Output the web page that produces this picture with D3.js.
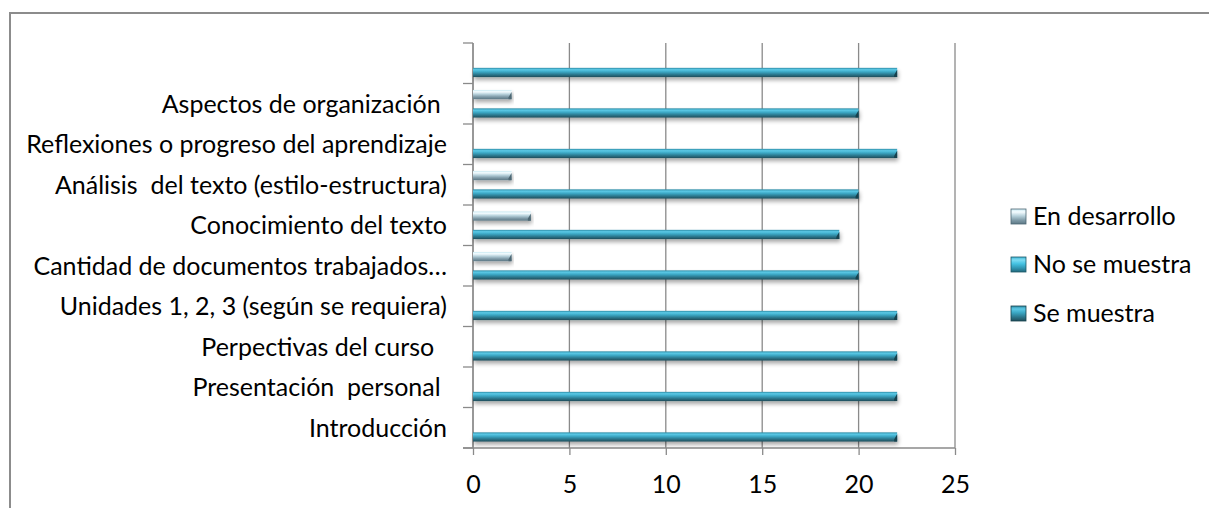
<!DOCTYPE html>
<html>
<head>
<meta charset="utf-8">
<script src="https://cdn.jsdelivr.net/npm/d3@7"></script>
<style>
  body { margin: 0; background: #fff; }
  text { font-family: Lato, "Open Sans", sans-serif; fill: #000; white-space: pre; }
</style>
</head>
<body>
<svg id="chart" width="1209" height="508"></svg>
<script>
// categories, top to bottom (the top one has no label in the original)
var categories = [
    "",
    "Aspectos de organización ",
    "Reflexiones o progreso del aprendizaje",
    "Análisis  del texto (estilo-estructura)",
    "Conocimiento del texto",
    "Cantidad de documentos trabajados…",
    "Unidades 1, 2, 3 (según se requiera)",
    "Perpectivas del curso  ",
    "Presentación  personal ",
    "Introducción"
];
var seMuestra    = [22, 20, 22, 20, 19, 20, 22, 22, 22, 22];
var noSeMuestra  = [0, 0, 0, 0, 0, 0, 0, 0, 0, 0];
var enDesarrollo = [0, 2, 0, 2, 3, 2, 0, 0, 0, 0];
var seriesNames  = ["En desarrollo", "No se muestra", "Se muestra"];
var xTicks = [0, 5, 10, 15, 20, 25];

var svg = d3.select("#chart");
var fontSize = 25;

var series = [
    {name: "En desarrollo", values: enDesarrollo, grad: "gDes", stops: ["#c9e9f2", "#f4fcff", "#b9d3dd", "#7e9aa7", "#5d7885"], end: "#4d6773"},
    {name: "No se muestra", values: noSeMuestra, grad: "gNo", stops: ["#3fb6d6", "#7ddcf3", "#45c2e2", "#2f94b0", "#22687b"], end: "#1d5868"},
    {name: "Se muestra", values: seMuestra, grad: "gSe", stops: ["#2e8ca6", "#5cc9e6", "#3aa6c3", "#2b7489", "#1f4e5b"], end: "#17414d"}
];

// frame
svg.append("rect")
    .attr("x", 10).attr("y", 13)
    .attr("width", 1220).attr("height", 520)
    .attr("fill", "none").attr("stroke", "#8c8c8c").attr("stroke-width", 2);

var defs = svg.append("defs");
series.forEach(function(s){
    var g = defs.append("linearGradient").attr("id", s.grad)
        .attr("x1", 0).attr("y1", 0).attr("x2", 0).attr("y2", 1);
    var offs = [0, 0.2, 0.45, 0.75, 1];
    s.stops.forEach(function(c, i){
        g.append("stop").attr("offset", offs[i]).attr("stop-color", c);
    });
});
var shadow = defs.append("filter").attr("id", "shadow")
    .attr("x", "-5%").attr("y", "-50%").attr("width", "110%").attr("height", "250%");
shadow.append("feGaussianBlur").attr("in", "SourceAlpha").attr("stdDeviation", 2);
shadow.append("feOffset").attr("dx", 1).attr("dy", 3).attr("result", "off");
shadow.append("feComponentTransfer").append("feFuncA").attr("type", "linear").attr("slope", 0.35);
var merge = shadow.append("feMerge");
merge.append("feMergeNode");
merge.append("feMergeNode").attr("in", "SourceGraphic");

var x = d3.scaleLinear().domain([0, 25]).range([473, 955]);
var y = d3.scaleBand().domain(categories).range([43, 448]).paddingInner(0).paddingOuter(0);
var ySub = d3.scaleBand().domain(seriesNames).range([0, y.bandwidth()]).paddingInner(0).paddingOuter(0.7);

// vertical gridlines
svg.append("g").selectAll("line").data(xTicks).join("line")
    .attr("x1", d => x(d)).attr("x2", d => x(d))
    .attr("y1", 43).attr("y2", 448)
    .attr("stroke", "#8a8a8a").attr("stroke-width", 1.3);

// bottom axis
var xAxis = svg.append("g").attr("transform", "translate(0,448)")
    .call(d3.axisBottom(x).tickValues(xTicks).tickSize(7).tickPadding(20));
xAxis.select(".domain").attr("stroke", "#8a8a8a").attr("stroke-width", 1.3)
    .attr("d", "M463,0H955");
xAxis.selectAll(".tick line").attr("stroke", "#8a8a8a").attr("stroke-width", 1.3);
xAxis.selectAll(".tick text").attr("font-size", fontSize).attr("fill", "#000")
    .style("font-family", "Lato, 'Open Sans', sans-serif");

// left axis: ticks at band boundaries, labels centered on bands
svg.append("line").attr("x1", 473).attr("x2", 473).attr("y1", 43).attr("y2", 448)
    .attr("stroke", "#8a8a8a").attr("stroke-width", 1.3);
var bounds = categories.map(d => y(d)).concat([448]);
svg.append("g").selectAll("line").data(bounds).join("line")
    .attr("x1", 463).attr("x2", 473)
    .attr("y1", d => d).attr("y2", d => d)
    .attr("stroke", "#8a8a8a").attr("stroke-width", 1.3);
svg.append("g").selectAll("text").data(categories).join("text")
    .attr("x", 447)
    .attr("y", d => y(d) + y.bandwidth() / 2)
    .attr("dy", "0.35em")
    .attr("text-anchor", "end")
    .attr("font-size", fontSize)
    .text(d => d);

// bars
series.forEach(function(s){
    var g = svg.append("g");
    var data = categories.map(function(c, i){ return {cat: c, v: s.values[i]}; })
        .filter(d => d.v > 0);
    var h = ySub.bandwidth();
    g.selectAll("rect").data(data).join("rect")
        .attr("x", x(0))
        .attr("y", d => y(d.cat) + ySub(s.name))
        .attr("width", d => x(d.v) - x(0))
        .attr("height", h)
        .attr("fill", "url(#" + s.grad + ")")
        .attr("filter", "url(#shadow)");
    // bevelled end
    g.selectAll("path").data(data).join("path")
        .attr("d", function(d){
            var x1 = x(d.v), y0 = y(d.cat) + ySub(s.name);
            return "M" + (x1 - 3) + "," + (y0 + h - 2) + "L" + x1 + "," + (y0 + 2) +
                "L" + x1 + "," + (y0 + h) + "L" + (x1 - 3) + "," + (y0 + h) + "Z";
        })
        .attr("fill", s.end);
});

// legend
var legend = svg.append("g");
var legendY = [216, 264, 313];
series.forEach(function(s, i){
    legend.append("rect")
        .attr("x", 1011).attr("y", legendY[i] - 7)
        .attr("width", 15).attr("height", 15)
        .attr("fill", "url(#" + s.grad + ")")
        .attr("stroke", s.end).attr("stroke-width", 0.8);
    legend.append("text")
        .attr("x", 1033).attr("y", legendY[i])
        .attr("dy", "0.35em")
        .attr("font-size", fontSize)
        .text(s.name);
});
</script>
</body>
</html>
